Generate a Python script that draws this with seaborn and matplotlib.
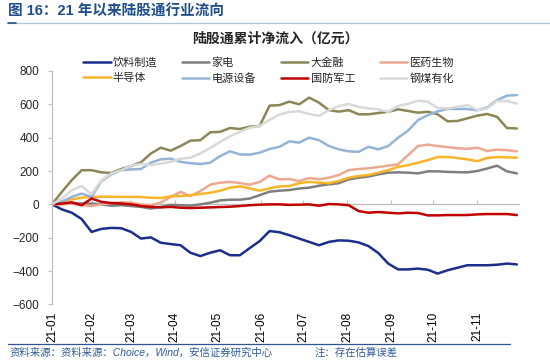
import numpy as np
import pandas as pd
import matplotlib
matplotlib.use("Agg")
import matplotlib.pyplot as plt
import matplotlib.dates as mdates
from matplotlib.lines import Line2D
import seaborn as sns

# ==========================
# Data (weekly cumulative net inflow, 亿元)
# ==========================

weeks = pd.date_range("2021-01-04", periods=48, freq="W-MON")

month_labels = ["21-01", "21-02", "21-03", "21-04", "21-05", "21-06",
                "21-07", "21-08", "21-09", "21-10", "21-11"]

beverage = [0, -30, -50, -88, -165, -147, -141, -143, -165, -205, -198, -230,
            -238, -245, -290, -310, -290, -275, -305, -305, -262, -220, -160, -167,
            -185, -205, -225, -245, -225, -216, -218, -228, -250, -292, -355, -390,
            -390, -385, -392, -415, -395, -380, -365, -365, -365, -362, -355, -360]

appliance = [0, 3, 8, 5, 5, 0, -8, -5, -10, -15, -25, -15,
             -3, -5, -8, 0, 10, 24, 28, 28, 35, 55, 76, 82,
             86, 95, 100, 112, 120, 127, 150, 160, 167, 180, 190, 192,
             190, 186, 198, 198, 195, 193, 192, 200, 215, 232, 198, 186]

finance = [0, 75, 145, 205, 205, 192, 188, 212, 230, 252, 305, 340,
           322, 350, 382, 385, 432, 435, 458, 452, 466, 470, 592, 595,
           616, 600, 640, 610, 565, 556, 565, 540, 540, 548, 555, 570,
           560, 550, 555, 540, 498, 500, 516, 532, 542, 525, 458, 455]

pharma = [0, 0, 5, -5, -10, 0, 8, 12, 10, 0, -5, 10,
          45, 75, 50, 80, 118, 130, 135, 128, 118, 135, 172, 150,
          152, 140, 158, 150, 160, 176, 205, 212, 216, 224, 232, 240,
          295, 350, 358, 350, 343, 337, 333, 340, 320, 328, 325, 318]

semi = [0, 18, 30, 40, 45, 46, 46, 45, 45, 44, 40, 38,
        48, 50, 55, 62, 70, 82, 100, 108, 96, 82, 96, 108,
        110, 127, 135, 130, 127, 140, 160, 170, 176, 190, 205, 225,
        235, 250, 265, 284, 284, 278, 270, 259, 278, 284, 282, 280]

power = [0, 15, 45, 65, 45, 140, 180, 205, 210, 212, 250, 270,
         274, 255, 247, 242, 250, 290, 318, 300, 298, 310, 332, 345,
         378, 370, 400, 385, 350, 330, 318, 315, 345, 330, 350, 400,
         442, 505, 535, 558, 572, 572, 572, 564, 580, 625, 652, 655]

defense = [0, 5, 12, -5, 35, 15, 8, 5, 0, -10, -15, -18,
           -15, -20, -22, -20, -18, -16, -14, -10, -5, -2, 0, 0,
           -3, -2, 0, -8, 2, 0, -5, -40, -50, -46, -50, -54,
           -50, -52, -66, -66, -64, -64, -64, -60, -58, -58, -58, -64]

cyclical = [0, 35, 85, 110, 60, 145, 185, 205, 232, 242, 235, 245,
            255, 274, 280, 305, 338, 375, 408, 435, 460, 470, 506, 539,
            555, 558, 542, 530, 565, 590, 602, 585, 575, 570, 555, 590,
            602, 622, 615, 578, 575, 585, 595, 565, 575, 620, 620, 604]

series_names = ["饮料制造", "家电", "大金融", "医药生物",
                "半导体", "电源设备", "国防军工", "钢煤有化"]

series_values = [beverage, appliance, finance, pharma,
                 semi, power, defense, cyclical]

colors = ["#1b2f8a", "#7f7f7f", "#8c8656", "#eba98f",
          "#f7b52a", "#95b3d7", "#c00000", "#d9d9d9"]

df = pd.DataFrame({
    "date": np.tile(weeks, len(series_names)),
    "value": np.concatenate(series_values),
    "industry": np.repeat(series_names, len(weeks)),
})

# ==========================
# Style
# ==========================

sns.set_style("white")
plt.rcParams["font.family"] = ["Liberation Sans", "Noto Sans CJK SC"]

grey = "#bfbfbf"

fig = plt.figure(figsize=(5.5, 3.62), dpi=100)
ax = fig.add_axes([0.0945, 0.159, 0.849, 0.645])

sns.lineplot(
    data=df,
    x="date",
    y="value",
    hue="industry",
    hue_order=series_names,
    palette=dict(zip(series_names, colors)),
    linewidth=1.8,
    errorbar=None,
    ax=ax,
)

# ==========================
# Axes
# ==========================

month_pos = [weeks[0]] + [pd.Timestamp(2021, m, 1) for m in range(2, 12)]

ax.set_xlim(weeks[0], weeks[-1] + pd.Timedelta(days=1.5))
ax.set_ylim(-600, 800)
ax.set_yticks(range(-600, 801, 200))
ax.set_xticks(month_pos)
ax.set_xticklabels(month_labels, rotation=90, fontsize=8.5)
ax.set_xlabel("")
ax.set_ylabel("")

for side in ["top", "right", "bottom"]:
    ax.spines[side].set_visible(False)
ax.spines["left"].set_color(grey)
ax.spines["left"].set_linewidth(0.9)

ax.tick_params(axis="x", length=0, pad=5, colors="black")
ax.tick_params(axis="y", length=3, width=0.8, color=grey, pad=6,
               labelsize=8.5, direction="out")
ax.yaxis.set_ticks_position("left")

# zero line with small tick marks
zero = ax.secondary_xaxis(0, transform=ax.transData)
zero.set_xticks(mdates.date2num(month_pos))
zero.tick_params(direction="in", length=3, width=0.8, color=grey,
                 labelbottom=False)
zero.spines["bottom"].set_color(grey)
zero.spines["bottom"].set_linewidth(0.9)

# ==========================
# Legend
# ==========================

handles, labels = ax.get_legend_handles_labels()
ax.get_legend().remove()
lookup = dict(zip(labels, handles))
order = ["饮料制造", "半导体", "家电", "电源设备",
         "大金融", "国防军工", "医药生物", "钢煤有化"]

fig.legend(
    [lookup[n] for n in order],
    order,
    loc="center",
    bbox_to_anchor=(0.488, 0.805),
    ncol=4,
    frameon=False,
    fontsize=8,
    handlelength=2.5,
    handletextpad=0.2,
    columnspacing=2.2,
    labelspacing=0.45,
)

# ==========================
# Titles and footer
# ==========================

fig.text(0.5, 1 - 39 / 362, "陆股通累计净流入（亿元）",
         ha="center", va="center", fontsize=10, fontweight="bold")

fig.text(8 / 550, 1 - 12 / 362, "图 16：21 年以来陆股通行业流向",
         ha="left", va="center", fontsize=10.5, fontweight="bold",
         color="#1f4e8c")

fig.add_artist(Line2D([8 / 550, 1.0], [1 - 22.5 / 362] * 2,
                      color="#b4c4d8", linewidth=0.9))
fig.add_artist(Line2D([8 / 550, 16 / 550], [1 - 22.5 / 362] * 2,
                      color="#1f4e8c", linewidth=1.2))

fig.add_artist(Line2D([8 / 550, 510 / 550], [1 - 344 / 362] * 2,
                      color="#2f5597", linewidth=0.9))

fig.text(10 / 550, 1 - 353 / 362,
         "资料来源：资料来源：Choice，Wind，安信证券研究中心",
         ha="left", va="center", fontsize=7.5, color="#2e5c9a",
         style="italic")
fig.text(315 / 550, 1 - 353 / 362, "注：存在估算误差",
         ha="left", va="center", fontsize=7.5, color="#2e5c9a",
         style="italic")

fig.savefig("out.png", dpi=100)
plt.close(fig)
